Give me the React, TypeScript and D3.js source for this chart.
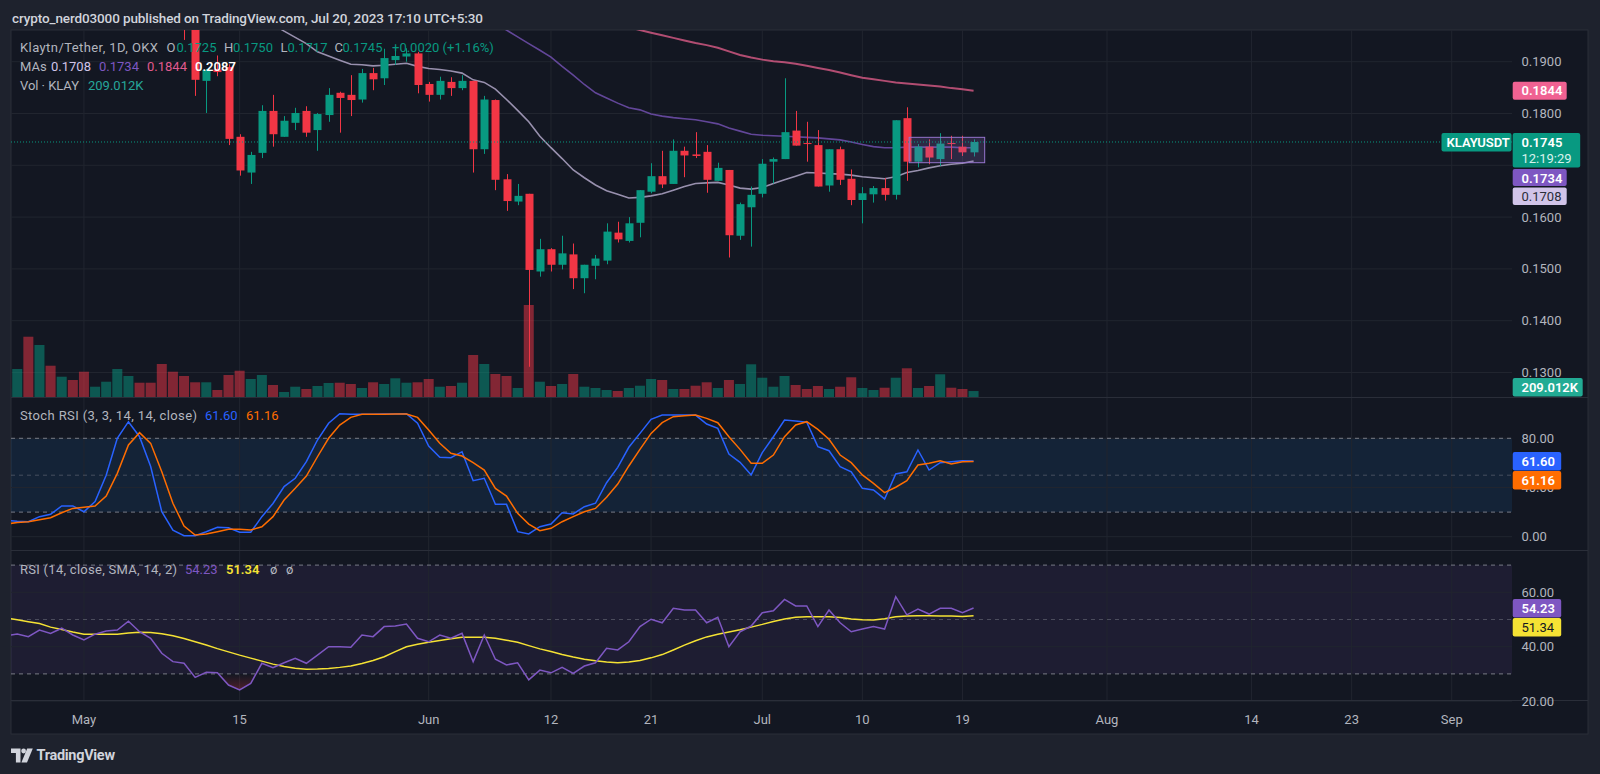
import React, { useEffect } from "react";
import * as d3 from "d3";

// ---------------- data ----------------
const FIRST_DAY = "2023-04-24";
const LAST_DAY = "2023-07-20";

const openP = [0.2060, 0.2070, 0.2100, 0.2040, 0.2100, 0.2070, 0.2090, 0.2060, 0.2020, 0.2040,
  0.2070, 0.2110, 0.2125, 0.2090, 0.2070, 0.2010, 0.2000, 0.1966, 0.1863, 0.1885,
  0.1890, 0.1755, 0.1686, 0.1724, 0.1805, 0.1755, 0.1782, 0.1805, 0.1768, 0.1797,
  0.1840, 0.1836, 0.1827, 0.1878, 0.1868, 0.1903, 0.1910, 0.1916, 0.1857, 0.1836,
  0.1861, 0.1849, 0.1863, 0.1731, 0.1826, 0.1673, 0.1630, 0.1645, 0.1495, 0.1538,
  0.1508, 0.1528, 0.1482, 0.1506, 0.1516, 0.1570, 0.1554, 0.1589, 0.1649, 0.1679,
  0.1664, 0.1728, 0.1721, 0.1726, 0.1670, 0.1691, 0.1564, 0.1619, 0.1645, 0.1707,
  0.1712, 0.1767, 0.1743, 0.1739, 0.1661, 0.1731, 0.1674, 0.1633, 0.1644, 0.1656,
  0.1643, 0.1791, 0.1707, 0.1736, 0.1712, 0.1743, 0.1736, 0.1725];
const highP = [0.2090, 0.2110, 0.2150, 0.2120, 0.2110, 0.2100, 0.2100, 0.2070, 0.2050, 0.2080,
  0.2130, 0.2140, 0.2130, 0.2100, 0.2075, 0.2030, 0.2015, 0.1975, 0.1886, 0.1912,
  0.1895, 0.1760, 0.1726, 0.1816, 0.1836, 0.1795, 0.1811, 0.1814, 0.1801, 0.1849,
  0.1842, 0.1874, 0.1886, 0.1888, 0.1925, 0.1925, 0.1926, 0.1919, 0.1861, 0.1871,
  0.1870, 0.1874, 0.1863, 0.1834, 0.1827, 0.1683, 0.1664, 0.1645, 0.1558, 0.1540,
  0.1564, 0.1549, 0.1508, 0.1527, 0.1588, 0.1591, 0.1600, 0.1652, 0.1704, 0.1728,
  0.1750, 0.1736, 0.1764, 0.1739, 0.1705, 0.1691, 0.1628, 0.1659, 0.1712, 0.1715,
  0.1868, 0.1805, 0.1784, 0.1768, 0.1731, 0.1736, 0.1692, 0.1658, 0.1660, 0.1675,
  0.1787, 0.1812, 0.1741, 0.1750, 0.1762, 0.1757, 0.1757, 0.1750];
const lowP = [0.2040, 0.2050, 0.2020, 0.2030, 0.2060, 0.2060, 0.2050, 0.2000, 0.2010, 0.2030,
  0.2060, 0.2090, 0.2080, 0.2060, 0.2000, 0.1985, 0.1942, 0.1834, 0.1801, 0.1872,
  0.1739, 0.1680, 0.1664, 0.1714, 0.1736, 0.1755, 0.1768, 0.1755, 0.1728, 0.1784,
  0.1763, 0.1795, 0.1821, 0.1845, 0.1855, 0.1894, 0.1900, 0.1839, 0.1823, 0.1827,
  0.1834, 0.1845, 0.1686, 0.1722, 0.1652, 0.1612, 0.1623, 0.1311, 0.1485, 0.1495,
  0.1499, 0.1461, 0.1453, 0.1480, 0.1509, 0.1551, 0.1551, 0.1561, 0.1646, 0.1656,
  0.1664, 0.1677, 0.1714, 0.1647, 0.1670, 0.1522, 0.1556, 0.1543, 0.1638, 0.1665,
  0.1712, 0.1738, 0.1707, 0.1659, 0.1649, 0.1662, 0.1623, 0.1588, 0.1628, 0.1632,
  0.1634, 0.1670, 0.1696, 0.1702, 0.1699, 0.1712, 0.1718, 0.1717];
const closeP = [0.2070, 0.2100, 0.2040, 0.2100, 0.2070, 0.2090, 0.2060, 0.2020, 0.2040, 0.2070,
  0.2110, 0.2125, 0.2090, 0.2070, 0.2010, 0.2000, 0.1966, 0.1865, 0.1884, 0.1880,
  0.1751, 0.1690, 0.1720, 0.1805, 0.1760, 0.1786, 0.1801, 0.1763, 0.1799, 0.1836,
  0.1830, 0.1826, 0.1878, 0.1866, 0.1907, 0.1911, 0.1916, 0.1855, 0.1836, 0.1863,
  0.1849, 0.1863, 0.1731, 0.1827, 0.1672, 0.1631, 0.1641, 0.1498, 0.1538, 0.1508,
  0.1530, 0.1482, 0.1508, 0.1520, 0.1572, 0.1557, 0.1588, 0.1652, 0.1679, 0.1663,
  0.1728, 0.1719, 0.1718, 0.1672, 0.1695, 0.1565, 0.1625, 0.1643, 0.1703, 0.1712,
  0.1764, 0.1738, 0.1741, 0.1659, 0.1731, 0.1672, 0.1633, 0.1646, 0.1656, 0.1643,
  0.1787, 0.1707, 0.1736, 0.1715, 0.1742, 0.1741, 0.1725, 0.1745];
// volume in thousands of KLAY
const volumeK = [300, 980, 2110, 1820, 1095, 710, 595, 885, 360, 535,
  980, 735, 500, 500, 1155, 885, 735, 515, 515, 245,
  770, 920, 630, 770, 420, 175, 360, 280, 385, 490,
  500, 455, 315, 515, 455, 655, 500, 515, 630, 360,
  385, 500, 1470, 1155, 805, 735, 315, 3220, 535, 385,
  455, 805, 360, 315, 245, 210, 315, 395, 630, 595,
  280, 280, 395, 515, 315, 595, 455, 1145, 675, 360,
  735, 420, 280, 385, 280, 360, 690, 315, 245, 325,
  675, 1005, 315, 385, 795, 325, 280, 209.012];

const MA20_FROM = "2023-05-16";
const ma20 = [0.2005, 0.1988, 0.1972, 0.1959, 0.1947, 0.1935, 0.1919, 0.1911, 0.1903, 0.1895,
  0.1894, 0.1892, 0.1893, 0.1895, 0.1897, 0.1891, 0.1887, 0.1885, 0.1882, 0.1878,
  0.1865, 0.1860, 0.1847, 0.1827, 0.1806, 0.1784, 0.1756, 0.1734, 0.1713, 0.1691,
  0.1676, 0.1662, 0.1651, 0.1644, 0.1637, 0.1638, 0.1641, 0.1645, 0.1652, 0.1659,
  0.1665, 0.1666, 0.1667, 0.1662, 0.1656, 0.1654, 0.1657, 0.1665, 0.1672, 0.1679,
  0.1686, 0.1685, 0.1684, 0.1683, 0.1681, 0.1678, 0.1676, 0.1674, 0.1678, 0.1686,
  0.1690, 0.1695, 0.1699, 0.1702, 0.1704, 0.1708];
const MA50_FROM = "2023-06-06";
const ma50 = [0.1990, 0.1975, 0.1961, 0.1948, 0.1935, 0.1922, 0.1909, 0.1891, 0.1874, 0.1856,
  0.1840, 0.1830, 0.1820, 0.1811, 0.1807, 0.1799, 0.1795, 0.1792, 0.1790, 0.1788,
  0.1784, 0.1780, 0.1772, 0.1766, 0.1760, 0.1758, 0.1757, 0.1756, 0.1755, 0.1754,
  0.1753, 0.1751, 0.1749, 0.1745, 0.1740, 0.1736, 0.1734, 0.1734, 0.1735, 0.1735,
  0.1735, 0.1735, 0.1735, 0.1734, 0.1734];
const MA100_FROM = "2023-06-18";
const ma100 = [0.1972, 0.1967, 0.1961, 0.1956, 0.1951, 0.1946, 0.1941, 0.1936, 0.1932, 0.1927,
  0.1920, 0.1913, 0.1908, 0.1904, 0.1901, 0.1899, 0.1896, 0.1892, 0.1888, 0.1884,
  0.1879, 0.1874, 0.1869, 0.1866, 0.1863, 0.1860, 0.1858, 0.1856, 0.1854, 0.1852,
  0.1849, 0.1847, 0.1844];
const MA200_LAST = 0.2087;

const stochK = [13.5, 12.5, 12.2, 16.3, 18.2, 25, 25, 20.3, 28.5, 50,
  80, 93.5, 81.3, 57, 20.3, 5.4, 0.8, 0.8, 4, 7.6,
  7.3, 3.6, 3.6, 16.3, 27, 40.7, 47.5, 61, 78.6, 92.2,
  100, 99.5, 99.5, 99.5, 99.8, 99.8, 100, 92.2, 73.7, 64.5,
  64.2, 69.1, 45.5, 47.5, 26.3, 26.3, 4.1, 2.2, 8.1, 10.3,
  19.5, 18.5, 24.4, 27.2, 43.9, 56.4, 72.7, 84, 95.4, 98.9,
  98.9, 98.9, 98.9, 91.6, 88.1, 67.2, 60.5, 50.2, 68.3, 81.3,
  94.9, 94.1, 93, 73.2, 69.9, 56.9, 52.8, 39.3, 38, 30.7,
  51, 52.8, 70.5, 54.2, 60.2, 61, 61.8, 61.6];
const stochD = [10.3, 11.5, 12.2, 13.8, 15.4, 19.5, 23, 24, 25, 33,
  51.5, 74.6, 84.6, 75.9, 52.8, 27.2, 8.7, 1.4, 2.2, 4.1,
  6, 6, 5.4, 8.1, 16.3, 29.8, 39.3, 49.3, 65, 80,
  90.8, 97, 99.5, 99.5, 99.6, 99.7, 99.8, 97, 86.7, 75.9,
  67.8, 65.6, 60.2, 54.2, 39.3, 33, 19, 10.3, 4.9, 6.8,
  12.2, 16.3, 20.3, 23, 32, 42.8, 57.5, 71, 84, 92.7,
  97.6, 98.4, 98.9, 96.2, 92.7, 81.3, 71, 59.7, 59.7, 66.4,
  81.3, 90.8, 93.5, 87.3, 79.2, 66.4, 60.2, 50.2, 43.4, 35.8,
  40.2, 45.5, 58.3, 59.7, 61.8, 59.1, 61, 61.16];
const rsi = [44.0, 44.7, 43.7, 46.1, 44.9, 46.8, 44.3, 42.5, 44.6, 45.8,
  46.1, 49.4, 45.5, 43.1, 37.6, 34.5, 33.9, 28.7, 30.6, 30.4,
  25.9, 24.1, 26.5, 33.9, 32.3, 34.1, 35.7, 33.9, 36.9, 40,
  40, 39.8, 44.3, 43.7, 47.4, 47.6, 48.3, 43.1, 41.8, 44.3,
  43.1, 44.9, 34.5, 44.3, 35.4, 33.3, 34.1, 27.8, 31.4, 30.4,
  32.4, 30.2, 32.9, 34.1, 39.4, 38.8, 41.8, 47.4, 50.1, 48.8,
  54.1, 53.5, 53.5, 48.8, 50.8, 40, 45.5, 47.6, 52.5, 53.2,
  57.4, 55, 55, 47.4, 53.5, 48.8, 45.5, 46.5, 47.4, 46.5,
  58.4, 51.7, 53.8, 52, 54.1, 54.1, 52.5, 54.23];
const rsiMa = [50.5, 49.9, 49.2, 48.5, 47.2, 46.3, 45.4, 44.6, 44.6, 44.6,
  44.6, 45.0, 45.3, 45.2, 44.8, 44.0, 43.0, 41.8, 40.6, 39.3,
  38.1, 36.9, 35.8, 34.7, 33.6, 32.7, 32.1, 31.7, 31.8, 32.0,
  32.4, 32.9, 33.8, 34.9, 36.3, 38.2, 40.0, 40.9, 41.6, 42.3,
  42.9, 43.5, 43.5, 43.5, 43.1, 42.4, 41.6, 40.4, 39.2, 38.2,
  37.1, 36.2, 35.4, 34.8, 34.4, 34.1, 34.4, 34.9, 35.9, 37.1,
  38.8, 40.6, 42.2, 43.6, 44.6, 45.4, 46.2, 47.2, 48.2, 49.3,
  50.2, 50.8, 51.0, 51.0, 51.0, 50.7, 50.2, 49.9, 49.8, 50.3,
  51.0, 51.3, 51.4, 51.4, 51.3, 51.3, 51.1, 51.34];

const TIME_TICKS = ["2023-05-01", "2023-05-15", "2023-06-01", "2023-06-12", "2023-06-21", "2023-07-01",
  "2023-07-10", "2023-07-19", "2023-08-01", "2023-08-14", "2023-08-23", "2023-09-01"];
const TIME_LABELS = ["May", "15", "Jun", "12", "21", "Jul", "10", "19", "Aug", "14", "23", "Sep"];
const PRICE_TICKS = [0.13, 0.14, 0.15, 0.16, 0.17, 0.18, 0.19];
const STOCH_TICKS = [0, 40, 80];
const RSI_TICKS = [20, 40, 60];
const BOX_DRAWING = { from: "2023-07-14T05:00:00Z", to: "2023-07-21T00:00:00Z", top: 0.1754, bottom: 0.1705 };
const COUNTDOWN = "12:19:29";

// ---------------- style ----------------
const FONT = "Roboto, 'Noto Sans', 'DejaVu Sans', sans-serif";
const BG_OUT = "#1e222d";
const BG = "#131722";
const GRID = "#21252f";
const TXT = "#b2b5be";
const UP = "#089981";
const DOWN = "#f23645";
const C_MA20 = "#d1c4e9";
const C_MA50 = "#7e57c2";
const C_MA100 = "#f06292";
const C_K = "#2962ff";
const C_D = "#ff6d00";
const C_RSI = "#7e57c2";
const C_RSIMA = "#f5e234";

const PL = 11, PR = 1512, FR = 1588;
const MAIN_T = 30, MAIN_B = 397, ST_B = 550, RSI_B = 700, FRAME_B = 734;
const AX_X = 1521.5;

function stack(items, gap) {
  const sorted = [...items].sort((a, b) => a.anchor - b.anchor);
  let prev = -Infinity;
  return sorted.map((it) => {
    const top = Math.max(it.anchor - 9, prev + gap);
    prev = top + it.h;
    return { ...it, top };
  });
}

export default function App() {
  useEffect(() => {
    document.body.style.margin = "0";
    document.body.style.overflow = "hidden";
    document.body.style.background = BG_OUT;
  }, []);

  const DAY = 864e5;
  const day0 = new Date(FIRST_DAY + "T00:00:00Z");
  const dates = d3.utcDay.range(day0, d3.utcDay.offset(new Date(LAST_DAY + "T00:00:00Z"), 1));
  const x = d3.scaleUtc()
    .domain([new Date(+day0 + 0.44 * DAY), new Date(+day0 + 135.42 * DAY)])
    .range([PL, PR]);
  const step = x(dates[1]) - x(dates[0]);
  const bodyW = step * 0.72;
  const volW = step * 0.9;

  const yP = d3.scaleLinear().domain([0.13, 0.19]).range([372.5, 61.7]);
  const yV = d3.scaleLinear().domain([0, 3500]).range([MAIN_B, MAIN_B - 100]);
  const yS = d3.scaleLinear().domain([0, 80]).range([536.7, 438.3]);
  const yR = d3.scaleLinear().domain([40, 60]).range([646.7, 592.3]);

  const last = closeP.length - 1;
  const chg = closeP[last] - closeP[last - 1];
  const pct = (chg / closeP[last - 1]) * 100;
  const sign = (v) => (v >= 0 ? "+" : "−");

  const maPath = (from, vals) => {
    const d0 = new Date(from + "T00:00:00Z");
    return d3.line().x((_, i) => x(d3.utcDay.offset(d0, i))).y((v) => yP(v))(vals);
  };
  const idxLine = (scale) => d3.line().x((_, i) => x(dates[i])).y((v) => scale(v));
  const rsiArea = d3.area().x((_, i) => x(dates[i])).y0(yR(30)).y1((v) => yR(v));

  const mainLabels = stack([
    { key: "ma100", anchor: yP(ma100[ma100.length - 1]), h: 18, bg: C_MA100, fg: "#ffffff", lines: [ma100[ma100.length - 1].toFixed(4)], w: 54 },
    { key: "last", anchor: yP(closeP[last]), h: 34.5, bg: UP, fg: "#ffffff", lines: [closeP[last].toFixed(4), COUNTDOWN], w: 67.5 },
    { key: "ma50", anchor: yP(ma50[ma50.length - 1]), h: 17, bg: C_MA50, fg: "#ffffff", lines: [ma50[ma50.length - 1].toFixed(4)], w: 54 },
    { key: "ma20", anchor: yP(ma20[ma20.length - 1]), h: 17.5, bg: C_MA20, fg: "#2a2e39", lines: [ma20[ma20.length - 1].toFixed(4)], w: 54, normal: true },
  ], 1.5);
  const stochLabels = stack([
    { key: "k", anchor: yS(stochK[last]), h: 18.5, bg: C_K, fg: "#fff", lines: [stochK[last].toFixed(2)], w: 48.5 },
    { key: "d", anchor: yS(stochD[last]), h: 18.5, bg: C_D, fg: "#fff", lines: [stochD[last].toFixed(2)], w: 48.5 },
  ], 0.5);
  const rsiLabels = stack([
    { key: "r", anchor: yR(rsi[last]), h: 18.5, bg: C_RSI, fg: "#fff", lines: [rsi[last].toFixed(2)], w: 48.5 },
    { key: "m", anchor: yR(rsiMa[last]), h: 18.5, bg: C_RSIMA, fg: "#131722", lines: [rsiMa[last].toFixed(2)], w: 48.5, normal: true },
  ], 0.5);
  const lastLabel = mainLabels.find((l) => l.key === "last");
  // price-axis tick labels hidden behind a value box (as the platform does)
  const covered = (yy, boxes) => boxes.some((b) => yy > b.top - 4 && yy < b.top + b.h + 4);

  const renderBox = (l) => (
    <g key={l.key}>
      <rect x={PR + 0.7} y={l.top} width={l.w} height={l.h} rx={2} fill={l.bg} />
      {l.lines.map((t, j) => (
        <text key={j} x={AX_X} y={l.top + 9.2 + j * 16} dominantBaseline="central" fontSize={13}
          fontWeight={l.normal ? 400 : j === 0 ? 600 : 400} fill={j === 0 ? l.fg : "#d8f2ed"}>{t}</text>
      ))}
    </g>
  );

  return (
    <svg width={1600} height={774} style={{ position: "absolute", left: 0, top: 0, display: "block" }} fontFamily={FONT}>
      <defs>
        <clipPath id="cMain"><rect x={PL} y={MAIN_T} width={PR - PL} height={MAIN_B - MAIN_T} /></clipPath>
        <clipPath id="cSt"><rect x={PL} y={MAIN_B} width={PR - PL} height={ST_B - MAIN_B} /></clipPath>
        <clipPath id="cRsi"><rect x={PL} y={ST_B} width={PR - PL} height={RSI_B - ST_B} /></clipPath>
        <clipPath id="cOs"><rect x={PL} y={yR(30)} width={PR - PL} height={RSI_B - yR(30)} /></clipPath>
        <linearGradient id="gOs" gradientUnits="userSpaceOnUse" x1={0} y1={yR(30)} x2={0} y2={yR(20)}>
          <stop offset="0" stopColor="#f23645" stopOpacity={0} />
          <stop offset="1" stopColor="#f23645" stopOpacity={0.45} />
        </linearGradient>
      </defs>

      <rect x={0} y={0} width={1600} height={774} fill={BG_OUT} />
      <rect x={PL} y={MAIN_T} width={FR - PL} height={FRAME_B - MAIN_T} fill={BG} stroke="#2a2e39" strokeWidth={1} />

      {/* header */}
      <text x={12} y={17.5} dominantBaseline="central" fontSize={13.5} fontWeight={500} fill="#d1d4dc"
        textLength={471} lengthAdjust="spacing">
        crypto_nerd03000 published on TradingView.com, Jul 20, 2023 17:10 UTC+5:30
      </text>

      {/* indicator bands */}
      <rect x={PL} y={yS(80)} width={PR - PL} height={yS(20) - yS(80)} fill="rgba(33,150,243,0.1)" />
      <rect x={PL} y={yR(70)} width={PR - PL} height={yR(30) - yR(70)} fill="rgba(126,87,194,0.1)" />

      {/* grid */}
      <g stroke={GRID} strokeWidth={1}>
        {PRICE_TICKS.map((p) => <line key={"gp" + p} x1={PL} x2={PR} y1={yP(p)} y2={yP(p)} />)}
        {STOCH_TICKS.map((v) => <line key={"gs" + v} x1={PL} x2={PR} y1={yS(v)} y2={yS(v)} />)}
        {RSI_TICKS.map((v) => <line key={"gr" + v} x1={PL} x2={PR} y1={yR(v)} y2={yR(v)} />)}
        {TIME_TICKS.map((t) => {
          const xx = x(new Date(t + "T00:00:00Z"));
          return <line key={"gt" + t} x1={xx} x2={xx} y1={MAIN_T} y2={RSI_B} />;
        })}
      </g>

      {/* band dashed lines */}
      <g stroke="#787b86" strokeDasharray="4 4" strokeWidth={1}>
        <line x1={PL} x2={PR} y1={yS(80)} y2={yS(80)} />
        <line x1={PL} x2={PR} y1={yS(50)} y2={yS(50)} strokeOpacity={0.5} />
        <line x1={PL} x2={PR} y1={yS(20)} y2={yS(20)} />
        <line x1={PL} x2={PR} y1={yR(70)} y2={yR(70)} />
        <line x1={PL} x2={PR} y1={yR(50)} y2={yR(50)} strokeOpacity={0.5} />
        <line x1={PL} x2={PR} y1={yR(30)} y2={yR(30)} />
      </g>

      {/* main pane */}
      <g clipPath="url(#cMain)">
        {dates.map((d, i) => {
          const up = closeP[i] >= openP[i];
          return <rect key={"v" + i} x={x(d) - volW / 2} y={yV(volumeK[i])} width={volW} height={yV(0) - yV(volumeK[i])}
            fill={up ? "rgba(8,153,129,0.5)" : "rgba(242,54,69,0.5)"} />;
        })}
        <path d={maPath(MA100_FROM, ma100)} fill="none" stroke={C_MA100} strokeOpacity={0.72} strokeWidth={2} />
        <path d={maPath(MA50_FROM, ma50)} fill="none" stroke={C_MA50} strokeOpacity={0.75} strokeWidth={1.6} />
        <path d={maPath(MA20_FROM, ma20)} fill="none" stroke={C_MA20} strokeOpacity={0.7} strokeWidth={1.6} />
        {dates.map((d, i) => {
          const up = closeP[i] >= openP[i];
          const c = up ? UP : DOWN;
          const cx = Math.round(x(d)) + 0.5;
          const yt = yP(Math.max(openP[i], closeP[i]));
          const yb = yP(Math.min(openP[i], closeP[i]));
          return (
            <g key={"c" + i}>
              <line x1={cx} x2={cx} y1={yP(highP[i])} y2={yP(lowP[i])} stroke={c} strokeWidth={1} />
              <rect x={cx - bodyW / 2} y={yt} width={bodyW} height={Math.max(1, yb - yt)} fill={c} />
            </g>
          );
        })}
        <rect x={x(new Date(BOX_DRAWING.from))} y={yP(BOX_DRAWING.top)}
          width={x(new Date(BOX_DRAWING.to)) - x(new Date(BOX_DRAWING.from))}
          height={yP(BOX_DRAWING.bottom) - yP(BOX_DRAWING.top)}
          fill="rgba(149,117,205,0.2)" stroke="#9575cd" strokeWidth={1} />
        <line x1={PL} x2={PR} y1={yP(closeP[last])} y2={yP(closeP[last])} stroke={UP} strokeWidth={1} strokeDasharray="1 2" />
      </g>

      {/* stoch pane */}
      <g clipPath="url(#cSt)" fill="none" strokeWidth={1.5}>
        <path d={idxLine(yS)(stochK)} stroke={C_K} />
        <path d={idxLine(yS)(stochD)} stroke={C_D} />
      </g>

      {/* rsi pane */}
      <g clipPath="url(#cRsi)">
        <path d={rsiArea(rsi)} fill="url(#gOs)" clipPath="url(#cOs)" />
        <path d={idxLine(yR)(rsiMa)} fill="none" stroke={C_RSIMA} strokeWidth={1.5} />
        <path d={idxLine(yR)(rsi)} fill="none" stroke={C_RSI} strokeWidth={1.5} />
      </g>

      {/* pane separators */}
      <g stroke="#2a2e39" strokeWidth={1}>
        <line x1={PL} x2={FR} y1={MAIN_B + 0.5} y2={MAIN_B + 0.5} />
        <line x1={PL} x2={FR} y1={ST_B + 0.5} y2={ST_B + 0.5} />
        <line x1={PL} x2={FR} y1={RSI_B + 0.5} y2={RSI_B + 0.5} />
      </g>

      {/* axis labels */}
      <g fontSize={13} fill={TXT}>
        {PRICE_TICKS.filter((p) => !covered(yP(p), mainLabels)).map((p) => (
          <text key={"tp" + p} x={AX_X} y={yP(p)} dominantBaseline="central">{p.toFixed(4)}</text>
        ))}
        {STOCH_TICKS.map((v) => <text key={"ts" + v} x={AX_X} y={yS(v)} dominantBaseline="central">{v.toFixed(2)}</text>)}
        {RSI_TICKS.map((v) => <text key={"tr" + v} x={AX_X} y={yR(v)} dominantBaseline="central">{v.toFixed(2)}</text>)}
        {TIME_TICKS.map((t, i) => (
          <text key={"tt" + t} x={x(new Date(t + "T00:00:00Z"))} y={719.5} textAnchor="middle" dominantBaseline="central">{TIME_LABELS[i]}</text>
        ))}
      </g>

      {/* right-axis value boxes */}
      <rect x={1441.5} y={lastLabel.top} width={70} height={18.5} rx={2} fill={UP} />
      <text x={1446.5} y={lastLabel.top + 9.2} dominantBaseline="central" fontSize={13} fontWeight={600} fill="#fff">KLAYUSDT</text>
      {mainLabels.map(renderBox)}
      {renderBox({ key: "vol", top: yV(volumeK[last]) - 13, h: 18.5, w: 70, bg: "#22ab94", fg: "#fff", lines: [volumeK[last].toFixed(3) + "K"] })}
      {stochLabels.map(renderBox)}
      {rsiLabels.map(renderBox)}

      {/* legends */}
      <g fontSize={13} dominantBaseline="central">
        <text x={20} y={47.7} fill={TXT} textLength={138} lengthAdjust="spacing">Klaytn/Tether, 1D, OKX</text>
        <text x={166.5} y={47.7} fill={TXT}>O</text>
        <text x={176.5} y={47.7} fill={UP}>{openP[last].toFixed(4)}</text>
        <text x={224} y={47.7} fill={TXT}>H</text>
        <text x={233} y={47.7} fill={UP}>{highP[last].toFixed(4)}</text>
        <text x={280.5} y={47.7} fill={TXT}>L</text>
        <text x={287.5} y={47.7} fill={UP}>{lowP[last].toFixed(4)}</text>
        <text x={334.5} y={47.7} fill={TXT}>C</text>
        <text x={342.5} y={47.7} fill={UP}>{closeP[last].toFixed(4)}</text>
        <text x={392} y={47.7} fill={UP}>{sign(chg) + Math.abs(chg).toFixed(4) + " (" + sign(pct) + Math.abs(pct).toFixed(2) + "%)"}</text>

        <text x={20} y={66.3} fill={TXT}>MAs</text>
        <text x={51} y={66.3} fill={C_MA20}>{ma20[ma20.length - 1].toFixed(4)}</text>
        <text x={99} y={66.3} fill={C_MA50}>{ma50[ma50.length - 1].toFixed(4)}</text>
        <text x={147} y={66.3} fill="#e05a8e">{ma100[ma100.length - 1].toFixed(4)}</text>
        <text x={195} y={66.3} fill="#ffffff" fontWeight={600}>{MA200_LAST.toFixed(4)}</text>

        <text x={20} y={85.5} fill={TXT} textLength={59} lengthAdjust="spacing">Vol · KLAY</text>
        <text x={88} y={85.5} fill="#26a69a">{volumeK[last].toFixed(3) + "K"}</text>

        <text x={20} y={415.7} fill={TXT} textLength={177} lengthAdjust="spacing">Stoch RSI (3, 3, 14, 14, close)</text>
        <text x={205} y={415.7} fill={C_K}>{stochK[last].toFixed(2)}</text>
        <text x={246} y={415.7} fill={C_D}>{stochD[last].toFixed(2)}</text>

        <text x={20} y={569.3} fill={TXT} textLength={157} lengthAdjust="spacing">RSI (14, close, SMA, 14, 2)</text>
        <text x={185} y={569.3} fill={C_RSI}>{rsi[last].toFixed(2)}</text>
        <text x={226} y={569.3} fill={C_RSIMA} fontWeight={600}>{rsiMa[last].toFixed(2)}</text>
        <text x={270} y={569.3} fill={TXT}>ø</text>
        <text x={286} y={569.3} fill={TXT}>ø</text>
      </g>

      {/* TradingView logo */}
      <g fill="#d1d4dc">
        <path d="M11 748.5 h9.5 v14 h-4.6 v-9.6 h-4.9 z" />
        <circle cx={23.6} cy={751} r={2.4} />
        <path d="M27.2 748.5 h5.6 l-5.8 14 h-5.6 z" />
      </g>
      <text x={36.5} y={755.5} dominantBaseline="central" fontSize={14.5} fontWeight={700} fill="#d1d4dc" letterSpacing={-0.3}>TradingView</text>
    </svg>
  );
}
